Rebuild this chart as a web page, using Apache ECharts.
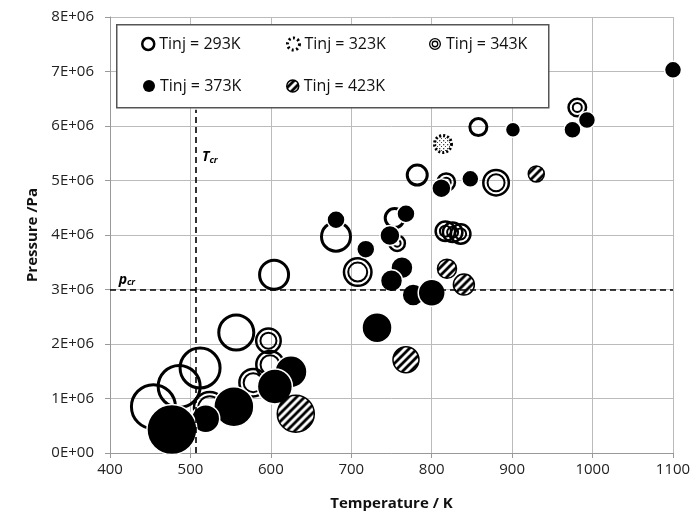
<!DOCTYPE html>
<html lang="en">

<head>
    <meta charset="UTF-8">
    <title>Pressure vs Temperature</title>
    <script src="https://cdn.jsdelivr.net/npm/echarts@6/dist/echarts.min.js"></script>
    <style>
        body {
            margin: 0;
            padding: 0;
            background: #fff;
        }

        #chartContainer {
            width: 692px;
            height: 520px;
        }
    </style>
</head>

<body>
    <div id="chartContainer"></div>

    <script>
        // [temperature K, pressure Pa, bubble size]
        var tinj293 = [
            [858, 5.98e6, 20], [782, 5.10e6, 23], [681, 3.97e6, 32], [754, 4.31e6, 22],
            [604, 3.27e6, 32], [557, 2.21e6, 38], [512, 1.56e6, 43], [486, 1.22e6, 45],
            [454, 0.85e6, 47]
        ];
        var tinj323 = [
            [814, 5.67e6, 20]
        ];
        var tinj343 = [
            [981, 6.34e6, 20], [880, 4.96e6, 28], [818, 4.97e6, 20], [817, 4.07e6, 22],
            [826, 4.05e6, 22], [836, 4.02e6, 22], [757, 3.85e6, 18], [708, 3.32e6, 30],
            [597, 2.06e6, 27], [599, 1.62e6, 30], [578, 1.29e6, 30], [524, 0.83e6, 34]
        ];
        var tinj373 = [
            [1100, 7.03e6, 17], [993, 6.11e6, 17], [975, 5.93e6, 17], [901, 5.93e6, 15],
            [848, 5.03e6, 17], [812, 4.86e6, 19], [681, 4.28e6, 18], [768, 4.39e6, 18],
            [748, 3.99e6, 20], [718, 3.74e6, 18], [763, 3.40e6, 22], [750, 3.16e6, 22],
            [777, 2.90e6, 22], [800, 2.94e6, 27], [732, 2.30e6, 30], [625, 1.49e6, 32],
            [605, 1.22e6, 35], [554, 0.85e6, 40], [519, 0.63e6, 28], [477, 0.43e6, 50]
        ];
        var tinj423 = [
            [930, 5.12e6, 17], [819, 3.38e6, 20], [840, 3.09e6, 22], [768, 1.71e6, 27],
            [631, 0.72e6, 38]
        ];

        var names = ['Tinj = 293K', 'Tinj = 323K', 'Tinj = 343K', 'Tinj = 373K', 'Tinj = 423K'];
        var Tcr = 507;
        var pcr = 3e6;

        var font = '"Open Sans", sans-serif';

        // diagonal hatch tile
        var hatchTile = (function () {
            var c = document.createElement('canvas');
            c.width = 8;
            c.height = 8;
            var ctx = c.getContext('2d');
            ctx.fillStyle = '#fff';
            ctx.fillRect(0, 0, 8, 8);
            ctx.strokeStyle = '#000';
            ctx.lineWidth = 2.8;
            ctx.beginPath();
            ctx.moveTo(-1, 1); ctx.lineTo(1, -1);
            ctx.moveTo(0, 8); ctx.lineTo(8, 0);
            ctx.moveTo(7, 9); ctx.lineTo(9, 7);
            ctx.stroke();
            return c;
        })();

        // speckle tile
        var dotTile = (function () {
            var c = document.createElement('canvas');
            c.width = 4;
            c.height = 4;
            var ctx = c.getContext('2d');
            ctx.fillStyle = '#fff';
            ctx.fillRect(0, 0, 4, 4);
            ctx.fillStyle = '#444';
            ctx.fillRect(0, 0, 1.3, 1.3);
            ctx.fillRect(2, 2, 1, 1);
            return c;
        })();

        // symbols are drawn at unit size and scaled, so undo that on the pattern
        function patternFor(tile, size) {
            var s = size ? 2 / size : 1;
            return { image: tile, repeat: 'repeat', scaleX: s, scaleY: s };
        }

        var doubleRing = 'path://M12,0A12,12,0,1,1,12,24A12,12,0,1,1,12,0Z' +
            'M12,2.6A9.4,9.4,0,1,0,12,21.4A9.4,9.4,0,1,0,12,2.6Z' +
            'M12,5.2A6.8,6.8,0,1,1,12,18.8A6.8,6.8,0,1,1,12,5.2Z' +
            'M12,7.8A4.2,4.2,0,1,0,12,16.2A4.2,4.2,0,1,0,12,7.8Z';

        function legendAt(name, left, top, icon, itemStyle) {
            return {
                data: [{ name: name, icon: icon, itemStyle: itemStyle }],
                left: left,
                top: top,
                padding: 0,
                itemWidth: 12,
                itemHeight: 12,
                z: 5,
                textStyle: { fontFamily: font, fontSize: 16, color: '#111' }
            };
        }

        var myChart = echarts.init(document.getElementById('chartContainer'));

        myChart.setOption({
            animation: false,
            grid: {
                left: 110,
                right: 19,
                top: 17,
                bottom: 67,
                outerBoundsMode: 'none'
            },
            graphic: [{
                type: 'rect',
                left: 116,
                top: 24,
                z: 3,
                shape: { width: 432, height: 83 },
                style: { fill: '#fff', stroke: '#555', lineWidth: 1.5 }
            }],
            legend: [
                legendAt(names[0], 141, 36, 'circle', { color: 'rgba(0,0,0,0)', borderColor: '#000', borderWidth: 2.5 }),
                legendAt(names[1], 286, 36, 'circle', { color: 'rgba(0,0,0,0)', borderColor: '#000', borderWidth: 3, borderType: [2, 2.5] }),
                legendAt(names[2], 429, 36, doubleRing, { color: '#000', borderWidth: 0 }),
                legendAt(names[3], 143, 78, 'circle', { color: '#000', borderWidth: 0 }),
                legendAt(names[4], 286, 78, 'circle', { color: patternFor(hatchTile), borderColor: '#000', borderWidth: 1.5 })
            ],
            xAxis: {
                type: 'value',
                min: 400,
                max: 1100,
                interval: 100,
                name: 'Temperature / K',
                nameLocation: 'middle',
                nameGap: 43,
                nameTextStyle: { fontFamily: font, fontSize: 15, fontWeight: 'bold', color: '#111' },
                axisLine: { show: true, lineStyle: { color: '#999' } },
                axisTick: { show: true, length: 5, lineStyle: { color: '#999' } },
                splitLine: { show: true, lineStyle: { color: '#bbb' } },
                axisLabel: {
                    fontFamily: font, fontSize: 15, color: '#222', margin: 9,
                    formatter: function (v) { return String(v); }
                }
            },
            yAxis: {
                type: 'value',
                min: 0,
                max: 8e6,
                interval: 1e6,
                name: 'Pressure /Pa',
                nameLocation: 'middle',
                nameGap: 70,
                nameRotate: 90,
                nameTextStyle: { fontFamily: font, fontSize: 15, fontWeight: 'bold', color: '#111' },
                axisLine: { show: true, lineStyle: { color: '#999' } },
                axisTick: { show: true, length: 5, lineStyle: { color: '#999' } },
                splitLine: { show: true, lineStyle: { color: '#bbb' } },
                axisLabel: {
                    fontFamily: font, fontSize: 15, color: '#222', margin: 16,
                    formatter: function (v) {
                        return v === 0 ? '0E+00' : (v / 1e6) + 'E+06';
                    }
                }
            },
            series: [
                {
                    name: names[0],
                    type: 'scatter',
                    data: tinj293,
                    symbolSize: function (v) { return v[2] - 3; },
                    itemStyle: { color: 'rgba(0,0,0,0)', borderColor: '#000', borderWidth: 3, opacity: 1 },
                    markLine: {
                        silent: true,
                        symbol: ['none', 'none'],
                        label: { show: false },
                        lineStyle: { type: [6, 4], color: '#000', width: 1.6 },
                        data: [
                            [{ coord: [Tcr, 0] }, { coord: [Tcr, 6.3e6] }],
                            [{ coord: [400, pcr] }, { coord: [1100, pcr] }]
                        ]
                    },
                    markPoint: {
                        silent: true,
                        symbolSize: 0,
                        label: {
                            show: true,
                            position: 'inside',
                            rich: {
                                t: { fontFamily: font, fontStyle: 'italic', fontWeight: 'bold', fontSize: 14, color: '#000' },
                                s: { fontFamily: font, fontStyle: 'italic', fontWeight: 'bold', fontSize: 9, color: '#000', verticalAlign: 'bottom', padding: [6, 0, 0, 0] }
                            }
                        },
                        data: [
                            { coord: [524, 5.43e6], label: { formatter: '{t|T}{s|cr}' } },
                            { coord: [421, 3.18e6], label: { formatter: '{t|p}{s|cr}' } }
                        ]
                    }
                },
                {
                    name: names[2],
                    type: 'scatter',
                    data: tinj343,
                    symbolSize: function (v) { return v[2] - 2.5; },
                    itemStyle: { color: 'rgba(0,0,0,0)', borderColor: '#000', borderWidth: 2.5, opacity: 1 }
                },
                {
                    name: names[2],
                    type: 'scatter',
                    data: tinj343,
                    symbolSize: function (v) { return v[2] - 11; },
                    itemStyle: { color: 'rgba(0,0,0,0)', borderColor: '#000', borderWidth: 2, opacity: 1 }
                },
                {
                    name: names[1],
                    type: 'scatter',
                    data: tinj323.map(function (v) {
                        return { value: v, itemStyle: { color: patternFor(dotTile, v[2] - 3) } };
                    }),
                    symbolSize: function (v) { return v[2] - 3; },
                    itemStyle: { borderColor: '#000', borderWidth: 3, borderType: [2, 2], opacity: 1 }
                },
                {
                    name: names[3],
                    type: 'scatter',
                    data: tinj373,
                    symbolSize: function (v) { return v[2]; },
                    itemStyle: { color: '#000', borderColor: '#fff', borderWidth: 1.5, opacity: 1 }
                },
                {
                    name: names[4],
                    type: 'scatter',
                    data: tinj423.map(function (v) {
                        return { value: v, itemStyle: { color: patternFor(hatchTile, v[2] - 1) } };
                    }),
                    symbolSize: function (v) { return v[2] - 1; },
                    itemStyle: { borderColor: '#000', borderWidth: 1.5, opacity: 1 }
                }
            ]
        });
    </script>
</body>

</html>
